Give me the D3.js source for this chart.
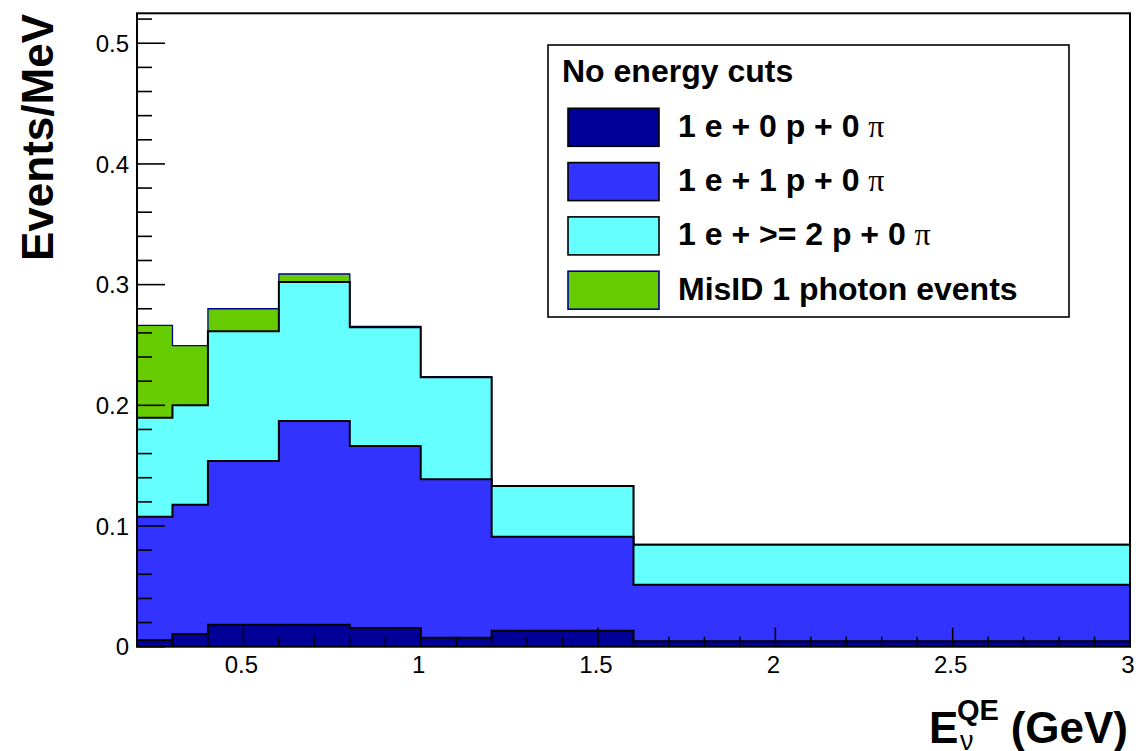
<!DOCTYPE html>
<html>
<head>
<meta charset="utf-8">
<script src="https://cdn.jsdelivr.net/npm/d3@7"></script>
<style>
  html, body { margin: 0; padding: 0; background: #fff; }
  svg { display: block; }
  text { font-family: "Liberation Sans", Arial, Helvetica, sans-serif; }
</style>
</head>
<body>
<svg id="chart" width="1136" height="751"></svg>
<script>
// ---- data (Events/MeV per bin, individual contributions, stacked) ----
const binEdges = [0.2, 0.3, 0.4, 0.6, 0.8, 1.0, 1.2, 1.6, 3.0];
const series1e0p = [0.0056, 0.0105, 0.0182, 0.0182, 0.0155, 0.0075, 0.0133, 0.0045];
const series1e1p = [0.1021, 0.1072, 0.1356, 0.1688, 0.1508, 0.1312, 0.0778, 0.0469];
const series1e2p = [0.0820, 0.0823, 0.1075, 0.1151, 0.0983, 0.0845, 0.0420, 0.0331];
const seriesMisID = [0.0766, 0.0494, 0.0187, 0.0067, 0.0008, 0.0005, 0.0002, 0.0002];
const seriesKeys = ["p0", "p1", "p2", "mis"];
const seriesColors = ["#000099", "#3333ff", "#66ffff", "#66cc00"];
const seriesLines = ["#000000", "#000000", "#000000", "#000099"];
const legendTitle = "No energy cuts";
const legendLabels = [
  ["1 e + 0 p + 0 ", "π"],
  ["1 e + 1 p + 0 ", "π"],
  ["1 e + >= 2 p + 0 ", "π"],
  ["MisID 1 photon events", ""]
];
const yTickValues = [0, 0.1, 0.2, 0.3, 0.4, 0.5];
const xTickValues = [0.5, 1, 1.5, 2, 2.5, 3];
const xDomain = [0.2, 3.0];
const yDomain = [0, 0.5248];

// ---- layout ----
const svg = d3.select("#chart");
const L = 137, R = 1130, T = 13.3, B = 646.7;
const x = d3.scaleLinear().domain(xDomain).range([L, R]);
const y = d3.scaleLinear().domain(yDomain).range([B, T]);

const rows = binEdges.slice(0, -1).map((lo, i) => ({
  lo, hi: binEdges[i + 1],
  p0: series1e0p[i], p1: series1e1p[i], p2: series1e2p[i], mis: seriesMisID[i]
}));
const stacked = d3.stack().keys(seriesKeys)(rows);

// draw like ROOT THStack: cumulative histograms from the top one down
const gHist = svg.append("g");
for (let k = stacked.length - 1; k >= 0; k--) {
  const layer = stacked[k];
  const pts = rows.map((r, i) => ({ x: r.lo, v: layer[i][1] }));
  pts.push({ x: rows[rows.length - 1].hi, v: layer[rows.length - 1][1] });
  const area = d3.area().x(d => x(d.x)).y0(y(0)).y1(d => y(d.v)).curve(d3.curveStepAfter);
  const line = d3.line().x(d => x(d.x)).y(d => y(d.v)).curve(d3.curveStepAfter);
  gHist.append("path").attr("d", area(pts)).attr("fill", seriesColors[k]);
  gHist.append("path").attr("d", line(pts)).attr("fill", "none")
    .attr("stroke", seriesLines[k]).attr("stroke-width", k === 3 ? 1.3 : 2);
}

// ---- frame ----
svg.append("rect").attr("x", L).attr("y", T).attr("width", R - L).attr("height", B - T)
  .attr("fill", "none").attr("stroke", "#000").attr("stroke-width", 2);

// ---- axis ticks (inside) ----
const gAx = svg.append("g").attr("stroke", "#000").attr("stroke-width", 1.6);
const yMinor = d3.range(0, 0.5249, 0.02);
yMinor.forEach(v => {
  const major = Math.abs(v * 10 - Math.round(v * 10)) < 1e-6;
  gAx.append("line").attr("x1", L).attr("x2", L + (major ? 28 : 15))
    .attr("y1", y(v)).attr("y2", y(v));
});
const xMinor = d3.range(0.3, 2.95, 0.1);
xMinor.forEach(v => {
  const major = Math.abs(v * 2 - Math.round(v * 2)) < 1e-6;
  gAx.append("line").attr("x1", x(v)).attr("x2", x(v))
    .attr("y1", B).attr("y2", B - (major ? 19 : 10));
});

// ---- tick labels ----
yTickValues.forEach(v => {
  svg.append("text").attr("x", 129).attr("y", y(v) + 8.6)
    .attr("text-anchor", "end").attr("font-size", 24).text(d3.format("")(v));
});
xTickValues.forEach(v => {
  svg.append("text").attr("x", x(v) - 2).attr("y", 673)
    .attr("text-anchor", "middle").attr("font-size", 24).text(d3.format("")(v));
});

// ---- axis titles ----
svg.append("text").attr("transform", "translate(53,14) rotate(-90)")
  .attr("text-anchor", "end").attr("font-size", 44).attr("font-weight", "bold")
  .text("Events/MeV");
svg.append("text").attr("x", 929).attr("y", 743).attr("font-size", 44)
  .attr("font-weight", "bold").text("E");
svg.append("text").attr("x", 957).attr("y", 720).attr("font-size", 29)
  .attr("font-weight", "bold").text("QE");
svg.append("text").attr("x", 960).attr("y", 750).attr("font-size", 27)
  .text("ν");
svg.append("text").attr("x", 1128).attr("y", 743).attr("text-anchor", "end")
  .attr("font-size", 44).attr("font-weight", "bold").text("(GeV)");

// ---- legend ----
const gLeg = svg.append("g");
gLeg.append("rect").attr("x", 548).attr("y", 45).attr("width", 521).attr("height", 272)
  .attr("fill", "#fff").attr("stroke", "#000").attr("stroke-width", 1.6);
gLeg.append("text").attr("x", 562).attr("y", 82).attr("font-size", 32)
  .attr("font-weight", "bold").text(legendTitle);
legendLabels.forEach((lab, i) => {
  const top = 108.3 + i * 54.3;
  gLeg.append("rect").attr("x", 568).attr("y", top).attr("width", 91).attr("height", 38)
    .attr("fill", seriesColors[i]).attr("stroke", seriesLines[i]).attr("stroke-width", 1.6);
  const t = gLeg.append("text").attr("x", 678).attr("y", top + 28.4).attr("font-size", 32)
    .attr("font-weight", "bold");
  t.append("tspan").text(lab[0]);
  if (lab[1]) t.append("tspan").attr("font-family", "'Liberation Serif', 'Times New Roman', serif")
    .attr("font-weight", "normal").text(lab[1]);
});
</script>
</body>
</html>
